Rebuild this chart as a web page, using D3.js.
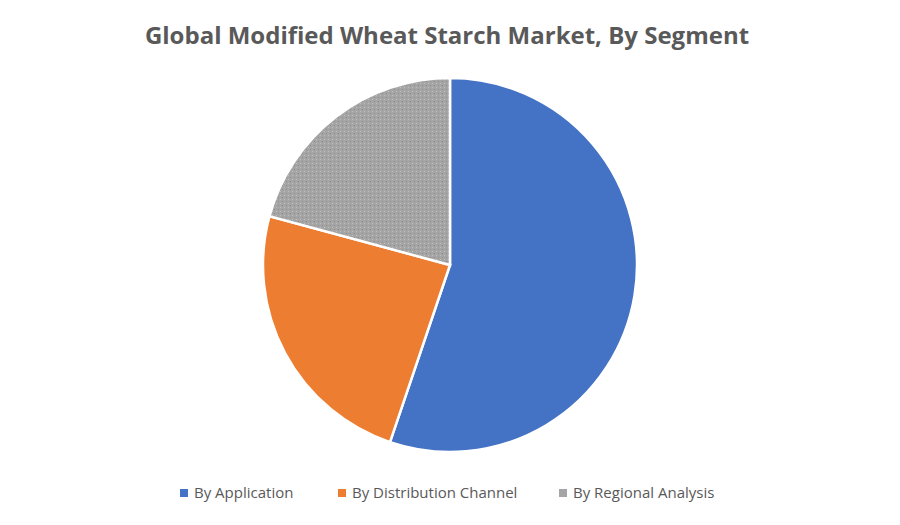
<!DOCTYPE html>
<html><head><meta charset="utf-8">
<script src="https://cdn.jsdelivr.net/npm/d3@7/dist/d3.min.js"></script>
<style>body{margin:0;background:#fff;}svg{display:block;}</style>
</head><body><svg id="c" width="900" height="525"></svg>
<script>
const categories = ["By Application","By Distribution Channel","By Regional Analysis"];
const values = [55.2, 24.0, 20.8];
const colors = ["#4472C4","#ED7D31","url(#gp)"];
const legendColors = ["#4472C4","#ED7D31","#A5A5A5"];

const svg = d3.select("#c");
const defs = svg.append("defs");
const p = defs.append("pattern").attr("id","gp").attr("width",4).attr("height",4).attr("patternUnits","userSpaceOnUse");
p.append("rect").attr("width",4).attr("height",4).attr("fill","#A5A5A5");
p.append("rect").attr("x",0).attr("y",0).attr("width",1).attr("height",1).attr("fill","#8c8c8c");
p.append("rect").attr("x",2).attr("y",2).attr("width",1).attr("height",1).attr("fill","#bdbdbd");

svg.append("text").attr("x",447).attr("y",44).attr("text-anchor","middle")
  .attr("font-family","'Open Sans', sans-serif").attr("font-weight","bold").attr("font-size",24)
  .attr("fill","#595959").text("Global Modified Wheat Starch Market, By Segment");

const pie = d3.pie().sort(null).value(d=>d)(values);
const arc = d3.arc().innerRadius(0).outerRadius(187);
const g = svg.append("g").attr("transform","translate(450,265)");
g.selectAll("path").data(pie).join("path").attr("d",arc)
  .attr("fill",(d,i)=>colors[i]).attr("stroke","#fff").attr("stroke-width",2.5);

const lg = svg.append("g").attr("font-family","'Open Sans', sans-serif").attr("font-size",15).attr("fill","#595959");
const lx = [180, 338, 559];
categories.forEach((c,i)=>{
  lg.append("rect").attr("x",lx[i]).attr("y",489).attr("width",8).attr("height",8).attr("fill",legendColors[i]);
  lg.append("text").attr("x",lx[i]+14).attr("y",498).text(c);
});
</script></body></html>
